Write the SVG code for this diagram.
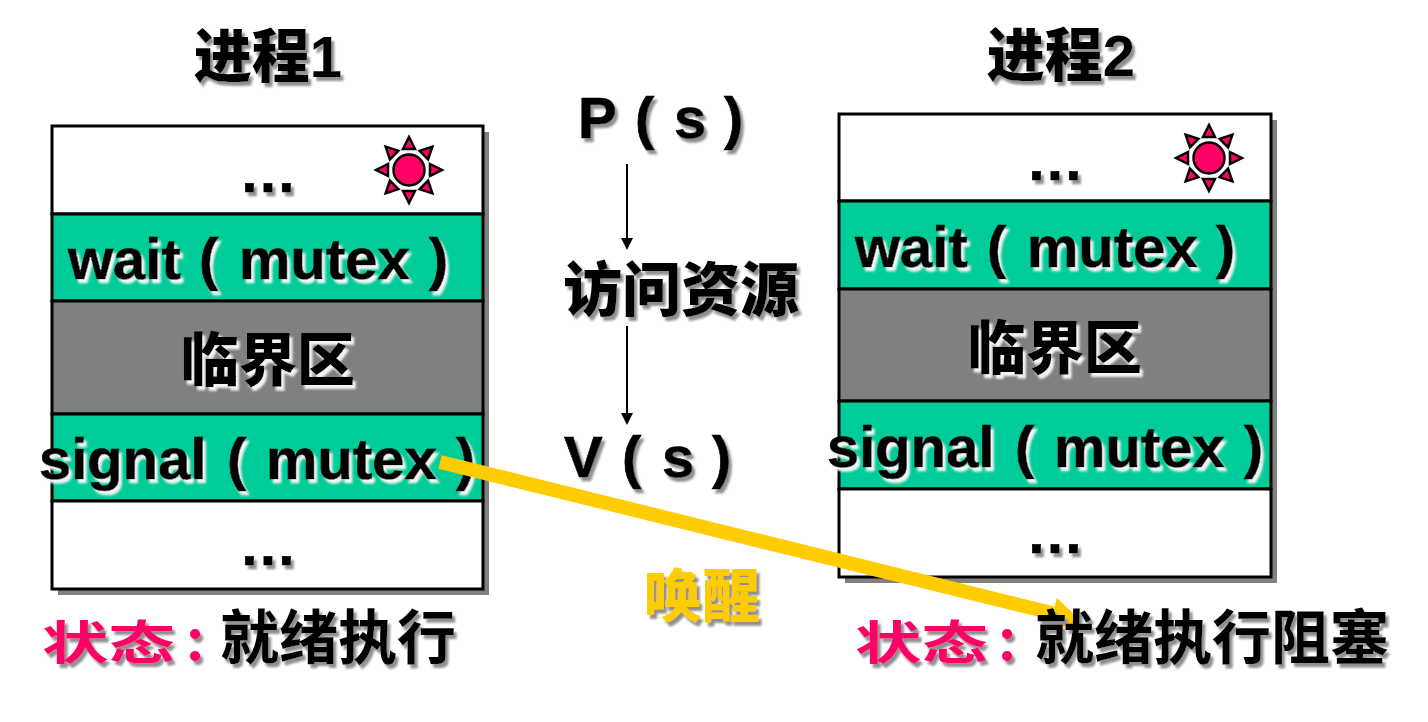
<svg xmlns="http://www.w3.org/2000/svg" width="1428" height="722" viewBox="0 0 1428 722">
<style>
text{font-family:"Liberation Sans","Noto Sans CJK SC",sans-serif;font-weight:700;fill:#000;filter:url(#ts)}
.c{text-anchor:middle}
.lat{font-size:58px;stroke:#000;stroke-width:.7}
.cjk{font-size:58px;font-weight:900}
.lite{filter:url(#tl)}
.b{stroke:#000;stroke-width:3}
.w{fill:#fff}.g{fill:#00cc99}.d{fill:#808080}
.st{font-family:"Noto Sans CJK SC",sans-serif;font-size:46px;fill:#ff0066;font-weight:700}
.col{font-family:Lato,sans-serif;font-size:62px;fill:#ff0066;font-weight:900}
.s{fill:#ff0066;stroke:#000;stroke-width:2.5}
.dark{font-size:59px;font-weight:700}
.thin{stroke:#000;stroke-width:2;fill:none}
</style>
<defs>
<filter id="ts" x="-10%" y="-20%" width="125%" height="150%"><feDropShadow dx="3" dy="4" stdDeviation="1.2" flood-color="#909090"/></filter>
<filter id="tl" x="-10%" y="-20%" width="125%" height="150%"><feDropShadow dx="3" dy="4" stdDeviation="1.2" flood-color="#f4f4f4"/></filter>
<g id="sun">
<circle r="15.5" class="s"/>
<g id="ray"><path class="s" d="M-6,-21L0,-33L6,-21Z"/></g>
<use href="#ray" transform="rotate(45)"/><use href="#ray" transform="rotate(90)"/><use href="#ray" transform="rotate(135)"/><use href="#ray" transform="rotate(180)"/><use href="#ray" transform="rotate(225)"/><use href="#ray" transform="rotate(270)"/><use href="#ray" transform="rotate(315)"/>
</g>
</defs>
<rect width="1428" height="722" fill="#fff"/>
<g id="process1">
<text x="268" y="77" class="c cjk">进程1</text>
<rect x="58" y="132" width="431" height="463" fill="#808080"/>
<rect x="52" y="126" width="431" height="88" class="w b"/>
<rect x="52" y="214" width="431" height="87" class="g b"/>
<rect x="52" y="301" width="431" height="113" class="d b"/>
<rect x="52" y="414" width="431" height="87" class="g b"/>
<rect x="52" y="501" width="431" height="88" class="w b"/>
<use href="#sun" x="409" y="170"/>
<text x="268" y="192" class="c lat">…</text>
<text y="279" class="lat lite"><tspan x="68">wait</tspan><tspan x="199">(</tspan><tspan x="239">mutex</tspan><tspan x="429">)</tspan></text>
<text x="268" y="381" class="c cjk lite">临界区</text>
<text y="479" class="lat lite"><tspan x="39">signal</tspan><tspan x="227">(</tspan><tspan x="266">mutex</tspan><tspan x="456">)</tspan></text>
<text x="268" y="565" class="c lat">…</text>
</g>
<g id="process2">
<text x="1061" y="76" class="c cjk">进程2</text>
<rect x="845" y="120" width="432" height="463" fill="#808080"/>
<rect x="839" y="114" width="432" height="87" class="w b"/>
<rect x="839" y="201" width="432" height="88" class="g b"/>
<rect x="839" y="289" width="432" height="112" class="d b"/>
<rect x="839" y="401" width="432" height="88" class="g b"/>
<rect x="839" y="489" width="432" height="88" class="w b"/>
<use href="#sun" x="1209" y="158"/>
<text x="1055" y="180" class="c lat">…</text>
<text y="267" class="lat lite"><tspan x="855">wait</tspan><tspan x="987">(</tspan><tspan x="1027">mutex</tspan><tspan x="1216">)</tspan></text>
<text x="1055" y="369" class="c cjk lite">临界区</text>
<text y="467" class="lat lite"><tspan x="827">signal</tspan><tspan x="1015">(</tspan><tspan x="1054">mutex</tspan><tspan x="1244">)</tspan></text>
<text x="1055" y="553" class="c lat">…</text>
</g>
<g id="ps"><text y="138" class="lat"><tspan x="578">P</tspan><tspan x="635">(</tspan><tspan x="674">s</tspan><tspan x="724">)</tspan></text></g>
<g id="access"><text x="681" y="311" class="c cjk" style="font-size:59px">访问资源</text></g>
<g id="vs"><text y="477" class="lat"><tspan x="564">V</tspan><tspan x="622">(</tspan><tspan x="662">s</tspan><tspan x="712">)</tspan></text></g>
<g id="connectors">
<path d="M627,164V240" class="thin"/><path d="M621,238h12l-6,12z"/>
<path d="M627,326V415" class="thin"/><path d="M621,413h12l-6,12z"/>
<path d="M440,462L1052,613" stroke="#ffcc00" stroke-width="14" fill="none"/>
<path d="M1057,598L1081,621L1046,633Z" fill="#ffcc00"/>
</g>
<g id="wake"><text x="702" y="617" class="c cjk" style="fill:#ffcc00">唤醒</text></g>
<g id="state1">
<text x="42" y="659" class="st" textLength="133" lengthAdjust="spacingAndGlyphs">状态</text><text x="187" y="661" class="col">:</text>
<text x="220" y="659" class="dark">就绪执行</text>
</g>
<g id="state2">
<text x="855" y="659" class="st" textLength="133" lengthAdjust="spacingAndGlyphs">状态</text><text x="999" y="661" class="col">:</text>
<text x="1035" y="659" class="dark">就绪执行阻塞</text>
</g>
</svg>
